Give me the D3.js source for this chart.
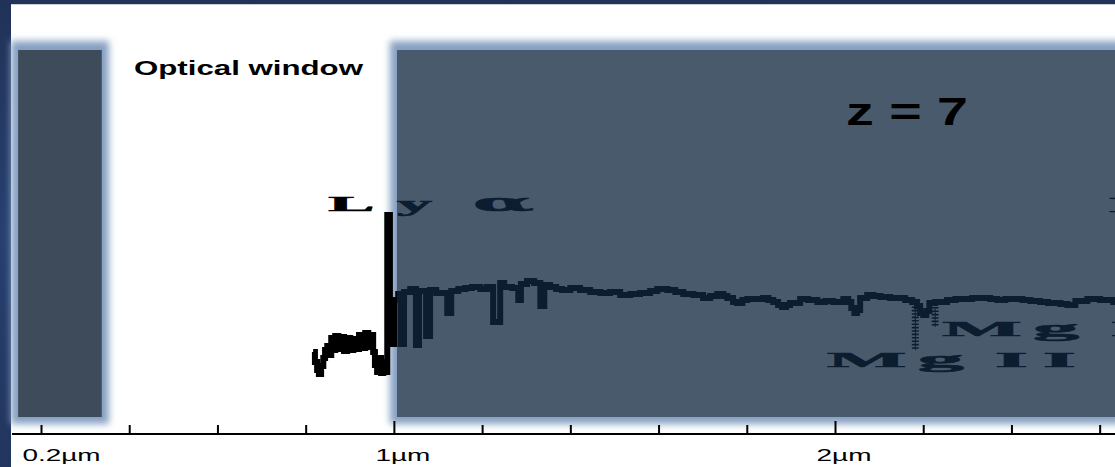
<!DOCTYPE html>
<html><head><meta charset="utf-8">
<script src="https://cdn.jsdelivr.net/npm/d3@7"></script>
<style>
html,body{margin:0;padding:0;background:#fff;overflow:hidden}
svg{display:block}
</style></head><body>
<svg id="chart" width="1115" height="467"></svg>
<script>
// ---------------- data ----------------
const wavelength = [0.817,0.821,0.826,0.830,0.835,0.840,0.844,0.849,0.853,0.858,0.862,0.867,0.874,0.880,0.887,0.894,0.901,0.908,0.914,0.921,0.928,0.935,0.942,0.948,0.953,0.957,0.962,0.966,0.971,0.976,0.980,
  0.985,0.991,0.996,1.001,1.010,1.016,1.023,1.037,1.050,1.057,1.073,1.082,1.096,1.121,1.130,1.146,1.162,1.177,1.196,1.211,1.225,1.241,1.250,1.268,1.282,1.288,1.302,1.318,1.332,1.341,1.354,1.368,1.381,1.400,1.422,1.445,1.468,1.490,1.513,1.536,1.558,1.581,1.597,1.620,1.638,1.656,1.679,1.701,1.717,1.733,1.747,1.756,1.769,1.778,1.790,1.801,1.819,1.837,1.849,1.860,1.871,1.880,1.889,1.898,1.921,1.939,1.960,1.978,1.996,2.019,2.030,2.037,2.044,2.050,2.057,2.073,2.087,2.103,2.125,2.141,2.159,2.175,2.186,2.193,2.200,2.207,2.214,2.227,2.254,2.273,2.291,2.311,2.329,2.352,2.368,2.386,2.404,2.425,2.443,2.465,2.483,2.495,2.511,2.527,2.545,2.572,2.601,2.631,2.647];
const flux = [0.48,0.38,0.30,0.26,0.34,0.42,0.50,0.54,0.45,0.62,0.50,0.64,0.51,0.63,0.49,0.62,0.50,0.61,0.51,0.65,0.52,0.67,0.53,0.65,0.48,0.35,0.28,0.42,0.27,0.38,0.28,
  1.85,0.70,0.56,1.00,1.06,0.56,1.08,1.11,0.55,1.09,0.64,1.10,1.07,0.87,1.09,1.11,1.12,1.13,1.11,1.13,0.78,1.17,1.13,1.12,1.00,1.16,1.19,1.17,0.94,1.15,1.13,1.11,1.10,1.12,1.10,1.08,1.07,1.08,1.05,1.06,1.07,1.09,1.11,1.10,1.08,1.06,1.05,1.02,1.04,1.06,1.04,1.02,0.98,0.97,1.00,1.01,1.01,1.02,1.00,0.98,0.95,0.93,0.95,0.97,1.01,1.00,0.98,0.99,0.98,1.01,0.98,0.92,0.87,0.90,1.02,1.05,1.04,1.03,1.02,1.02,1.00,0.98,0.94,0.87,0.85,0.89,0.97,0.98,1.00,1.01,1.01,1.02,1.02,1.01,1.00,1.01,1.01,1.00,0.99,0.98,0.97,0.97,0.96,0.95,0.99,1.01,1.00,0.98,0.98];

const tickValues = [0.2,0.4,0.6,0.8,1.0,1.2,1.4,1.6,1.8,2.0,2.2,2.4,2.6];
const tickLabels = ["0.2µm","","","","1µm","","","","","2µm","","",""];
const majorTicks = [1.0, 2.0];

const bandStart = [0.148, 1.007];
const bandEnd = [0.338, 2.70];

const lineLabels = ["Lyα", "MgII", "MgII", "H"];
const lineLabelWave = [0.851, 1.982, 2.243, 2.622];
const lineLabelFlux = [1.89, 0.33, 0.64, 1.88];

const markerWave = [2.182, 2.227];
const markerTop = [0.97, 0.93];
const markerBottom = [0.50, 0.73];

const titleText = "Optical window";
const redshiftText = "z = 7";

// ---------------- layout ----------------
const W = 1115, H = 467;
const axisY = 434, bandTop = 49, bandBottom = 416;
const svg = d3.select("#chart");

const x = d3.scaleLinear().domain([0.2, 2.0]).range([41, 835]);
const y = d3.scaleLinear().domain([0, 1]).range([400, 300]);

const defs = svg.append("defs");
const grad = defs.append("linearGradient").attr("id","navy").attr("x1",0).attr("y1",0).attr("x2",0).attr("y2",1);
grad.append("stop").attr("offset","0%").attr("stop-color","#213258");
grad.append("stop").attr("offset","50%").attr("stop-color","#27406f");
grad.append("stop").attr("offset","100%").attr("stop-color","#22355e");
const glow = defs.append("filter").attr("id","glow").attr("filterUnits","userSpaceOnUse")
  .attr("x",0).attr("y",0).attr("width",W).attr("height",H);
glow.append("feGaussianBlur").attr("stdDeviation", 3.5);

// frame
svg.append("rect").attr("width", W).attr("height", H).attr("fill", "url(#navy)");
svg.append("rect").attr("x", 11).attr("y", 4).attr("width", W - 11).attr("height", H - 4).attr("fill", "#fff");
svg.append("line").attr("x1", 11).attr("x2", W).attr("y1", 4.5).attr("y2", 4.5).attr("stroke", "#c9ced8").attr("stroke-width", 1);

const bands = d3.range(bandStart.length);

// halos (under content)
svg.append("g").selectAll("rect").data(bands).join("rect")
  .attr("x", i => x(bandStart[i]) - 7)
  .attr("y", bandTop - 8)
  .attr("width", i => x(bandEnd[i]) - x(bandStart[i]) + 14)
  .attr("height", bandBottom - bandTop + 16)
  .attr("fill", "#86a0c2")
  .attr("filter", "url(#glow)");
// white interior so the translucent band reads correctly
svg.append("g").selectAll("rect").data(bands).join("rect")
  .attr("x", i => x(bandStart[i]))
  .attr("y", bandTop + 1)
  .attr("width", i => x(bandEnd[i]) - x(bandStart[i]))
  .attr("height", bandBottom - bandTop)
  .attr("fill", "#fff");

// axis
const axisG = svg.append("g").attr("transform", `translate(0,${axisY})`);
axisG.call(d3.axisBottom(x).tickValues(tickValues).tickSizeInner(-9).tickSizeOuter(0)
  .tickPadding(15).tickFormat((d, i) => tickLabels[i]));
axisG.select(".domain").remove();
axisG.append("line").attr("x1", 12).attr("x2", W).attr("y1", 0).attr("y2", 0)
  .attr("stroke", "#000").attr("stroke-width", 2);
axisG.selectAll(".tick line").attr("stroke", "#000").attr("stroke-width", 2)
  .attr("y2", d => majorTicks.includes(d) ? -13 : -9);
const tickLen = {"0.2µm": 78, "1µm": 55, "2µm": 55};
axisG.selectAll(".tick text")
  .attr("font-family", "'Liberation Sans', Arial, sans-serif")
  .attr("font-size", 17).attr("fill", "#000")
  .attr("text-anchor", "start").attr("dx", -19)
  .each(function(d, i) {
    const t = tickLabels[i];
    if (t) d3.select(this).attr("textLength", tickLen[t]).attr("lengthAdjust", "spacingAndGlyphs");
  });

// spectrum
const line = d3.line().x(d => x(d[0])).y(d => y(d[1])).curve(d3.curveStepAfter);
svg.append("path").datum(d3.zip(wavelength, flux))
  .attr("d", line).attr("fill", "none").attr("stroke", "#000")
  .attr("stroke-width", 6).attr("stroke-linejoin", "miter");

// line markers (dashed ladders)
const mk = svg.append("g");
mk.selectAll("line.lad").data(markerWave).join("line").attr("class","lad")
  .attr("x1", d => x(d)).attr("x2", d => x(d))
  .attr("y1", (d, i) => y(markerTop[i])).attr("y2", (d, i) => y(markerBottom[i]))
  .attr("stroke", "#000").attr("stroke-width", 7).attr("stroke-dasharray", "1.6 1.8");
mk.selectAll("line.ax").data(markerWave).join("line").attr("class","ax")
  .attr("x1", d => x(d)).attr("x2", d => x(d))
  .attr("y1", (d, i) => y(markerTop[i])).attr("y2", (d, i) => y(markerBottom[i]))
  .attr("stroke", "#000").attr("stroke-width", 1);

// line labels (stretched serif), glyph offsets in local (unscaled) units
const labelStyle = [
  {fs: 21, sx: 3.3, gx: [0, 20.9, 43.9], big: 2},
  {fs: 21, sx: 4, gx: [0, 22.7, 42, 54], wide: 1},
  {fs: 21, sx: 4, gx: [0, 22.7, 42, 54], wide: 1},
  {fs: 21, sx: 4, gx: [0]}
];
svg.append("g").selectAll("text").data(lineLabels).join("text")
  .attr("transform", (d, i) => `translate(${x(lineLabelWave[i])},${y(lineLabelFlux[i])}) scale(${labelStyle[i].sx},1)`)
  .attr("font-family", "'Liberation Serif', 'Times New Roman', serif")
  .attr("font-weight", "bold")
  .attr("font-size", (d, i) => labelStyle[i].fs)
  .attr("fill", "#000").attr("stroke", "#000").attr("stroke-width", 0.6)
  .each(function(d, i) {
    const st = labelStyle[i];
    const chars = Array.from(d);
    d3.select(this).selectAll("tspan").data(chars).join("tspan")
      .attr("x", (c, j) => st.gx[j])
      .attr("font-family", (c, j) => j === st.big ? "'DejaVu Serif', serif" : null)
      .attr("font-size", (c, j) => j === st.big ? 24 : (j === st.wide ? 23 : null))
      .text(c => c);
  });

// dark translucent bands (over content)
svg.append("g").selectAll("rect").data(bands).join("rect")
  .attr("x", i => x(bandStart[i]))
  .attr("y", bandTop + 1)
  .attr("width", i => x(bandEnd[i]) - x(bandStart[i]))
  .attr("height", bandBottom - bandTop)
  .attr("fill", i => i === 0 ? "#3d4b5a" : "rgb(15,38,62)")
  .attr("fill-opacity", i => i === 0 ? 1 : 0.76);

// top texts
svg.append("text").attr("x", 134).attr("y", 75)
  .attr("font-family", "'Liberation Sans', Arial, sans-serif").attr("font-weight", "bold")
  .attr("font-size", 21).attr("fill", "#000")
  .attr("textLength", 229).attr("lengthAdjust", "spacingAndGlyphs")
  .text(titleText);
svg.append("text").attr("x", 846).attr("y", 125)
  .attr("font-family", "'Liberation Sans', Arial, sans-serif").attr("font-weight", "bold")
  .attr("font-size", 39).attr("fill", "#000")
  .attr("textLength", 122).attr("lengthAdjust", "spacingAndGlyphs")
  .text(redshiftText);
</script>
</body></html>
